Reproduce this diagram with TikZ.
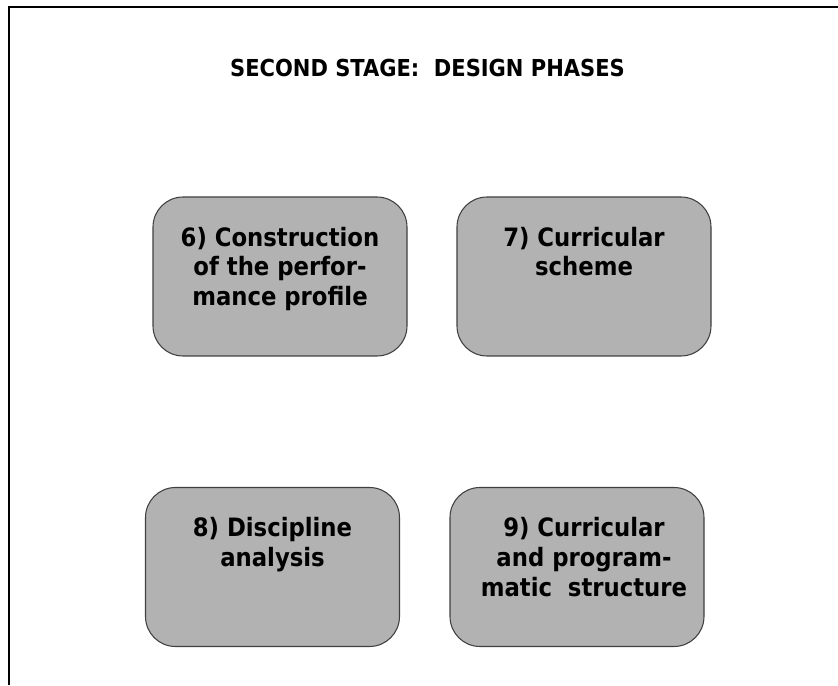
\documentclass[tikz,border=0pt]{standalone}
\usepackage{fontspec}
\setmainfont{DejaVu Sans Condensed}
\usetikzlibrary{positioning}
\begin{document}
\begin{tikzpicture}[
    fase/.style={draw=black!75,line width=0.6pt,fill=black!30,rounded corners=0.6cm,
        minimum width=5.08cm,minimum height=3.18cm,inner sep=0pt},
    texto/.style={font=\bfseries\fontsize{14.4}{17}\selectfont,align=center,inner sep=0pt}
]
    \useasboundingbox (0,0) rectangle (16.76,13.70);

    % Marco
    \draw[line width=1.1pt] (0.18,0) -- (0.18,13.56) -- (16.76,13.56);

    % Título
    \node[font=\bfseries\fontsize{13.3}{15}\selectfont,anchor=base] (titulo) at (8.55,12.16)
        {SECOND STAGE:\ \ DESIGN PHASES};

    % Fases de arriba
    \node[fase] (f6) at (5.60,8.17) {};
    \node[texto,below=0.60cm of f6.north] (t6) {6) Construction\\of the perfor-\\mance profile};

    \node[fase] (f7) at (11.68,8.17) {};
    \node[texto,below=0.60cm of f7.north] (t7) {7) Curricular\\scheme};

    % Fases de abajo
    \node[fase] (f8) at (5.45,2.36) {};
    \node[texto,below=0.60cm of f8.north] (t8) {8) Discipline\\analysis};

    \node[fase] (f9) at (11.54,2.36) {};
    \node[texto,below=0.60cm of f9.north,xshift=0.14cm] (t9) {9) Curricular\\and program-\\matic\ \ structure};
\end{tikzpicture}
\end{document}
